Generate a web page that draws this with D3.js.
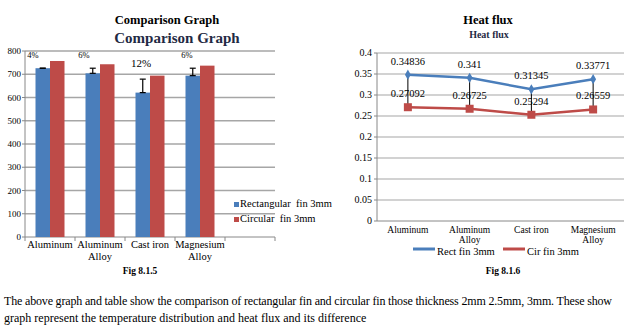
<!DOCTYPE html>
<html>
<head>
<meta charset="utf-8">
<script src="https://cdn.jsdelivr.net/npm/d3@7"></script>
<style>
  body { margin: 0; background: #fff; }
</style>
</head>
<body>
<svg id="chart" width="637" height="334"></svg>
<script>
// left chart data
var materials = ["Aluminum", "Aluminum\nAlloy", "Cast iron", "Magnesium\nAlloy"];
var rectValues = [726, 704, 621, 694];
var circValues = [757, 743, 694, 737];
var rectErrors = [0, 22, 58, 32];
var percentLabels = ["4%", "6%", "12%", "6%"];
var barTicks = [0, 100, 200, 300, 400, 500, 600, 700, 800];

// right chart data
var rectFlux = [0.34836, 0.341, 0.31345, 0.33771];
var cirFlux = [0.27092, 0.26725, 0.25294, 0.26559];
var fluxTicks = [0, 0.05, 0.1, 0.15, 0.2, 0.25, 0.3, 0.35, 0.4];

var blue = "#4a7ebb";
var red = "#be4b48";
var grid = "#a6a6a6";
var serif = "'Liberation Serif', 'Times New Roman', 'DejaVu Serif', serif";

var svg = d3.select("#chart").attr("font-family", serif).style("font-family", serif);

function multiLine(sel, cx, y, label, size, weight, lh) {
    var lines = label.split("\n");
    var t = sel.append("text")
        .attr("x", cx).attr("y", y)
        .attr("text-anchor", "middle")
        .style("font-size", size + "px")
        .style("font-weight", weight || "normal");
    lines.forEach(function(l, i) {
        t.append("tspan").attr("x", cx).attr("dy", i == 0 ? 0 : lh + "px").text(l);
    });
}

// ---------- left: comparison bar chart ----------
var left = svg.append("g");
left.append("text").attr("x", 167).attr("y", 24).attr("text-anchor", "middle")
    .style("font-size", "12.5px").style("font-weight", "bold").text("Comparison Graph");
left.append("text").attr("x", 177).attr("y", 43).attr("text-anchor", "middle")
    .style("font-size", "15px").style("font-weight", "bold").style("fill", "#1f2a44")
    .text("Comparison Graph");

var x0 = d3.scaleBand().domain(d3.range(5)).range([25, 275]);
var y0 = d3.scaleLinear().domain([0, 800]).range([237, 51]);

left.selectAll(".hgrid").data(barTicks.slice(1)).enter().append("line")
    .attr("x1", 25).attr("x2", 275)
    .attr("y1", function(d) { return y0(d); }).attr("y2", function(d) { return y0(d); })
    .style("stroke", grid).style("stroke-width", 1.5);

left.selectAll(".ylab").data(barTicks).enter().append("text")
    .attr("x", 21).attr("y", function(d) { return y0(d) + 3; })
    .attr("text-anchor", "end").style("font-size", "9px").text(function(d) { return d; });

// axes
left.append("line").attr("x1", 25).attr("x2", 25).attr("y1", 51).attr("y2", 237)
    .style("stroke", "#888");
left.append("line").attr("x1", 25).attr("x2", 275).attr("y1", 237).attr("y2", 237)
    .style("stroke", "#888");
left.selectAll(".xtick").data(d3.range(6)).enter().append("line")
    .attr("x1", function(d) { return 25 + d * x0.bandwidth(); })
    .attr("x2", function(d) { return 25 + d * x0.bandwidth(); })
    .attr("y1", 237).attr("y2", 241).style("stroke", "#888");
left.selectAll(".ytick").data(barTicks).enter().append("line")
    .attr("x1", 22).attr("x2", 25)
    .attr("y1", function(d) { return y0(d); }).attr("y2", function(d) { return y0(d); })
    .style("stroke", "#888");

var bw = 14.5;
left.selectAll(".rbar").data(rectValues).enter().append("rect")
    .attr("x", function(d, i) { return x0(i) + x0.bandwidth() / 2 - bw; })
    .attr("y", function(d) { return y0(d); })
    .attr("width", bw).attr("height", function(d) { return 237 - y0(d); })
    .style("fill", blue);
left.selectAll(".cbar").data(circValues).enter().append("rect")
    .attr("x", function(d, i) { return x0(i) + x0.bandwidth() / 2; })
    .attr("y", function(d) { return y0(d); })
    .attr("width", bw).attr("height", function(d) { return 237 - y0(d); })
    .style("fill", red);

// error bars on rectangular series
rectValues.forEach(function(v, i) {
    var cx = x0(i) + x0.bandwidth() / 2 - bw / 2;
    var yTop = y0(v + rectErrors[i]), yBot = y0(v);
    left.append("line").attr("x1", cx).attr("x2", cx).attr("y1", yTop).attr("y2", yBot)
        .style("stroke", "#000").style("stroke-width", 1.2);
    [yTop, yBot].forEach(function(yy) {
        left.append("line").attr("x1", cx - 3).attr("x2", cx + 3).attr("y1", yy).attr("y2", yy)
            .style("stroke", "#000").style("stroke-width", 1.2);
    });
});

// percent labels
var pctX = [33, 84, 141, 187];
var pctY = [58, 58, 67, 58];
left.selectAll(".pct").data(percentLabels).enter().append("text")
    .attr("x", function(d, i) { return pctX[i]; })
    .attr("y", function(d, i) { return pctY[i]; })
    .attr("text-anchor", "middle").style("fill", "#000")
    .style("font-size", function(d) { return d == "12%" ? "11px" : "8.5px"; })
    .text(function(d) { return d; });

materials.forEach(function(m, i) {
    multiLine(left, x0(i) + x0.bandwidth() / 2, 248, m, 10.5, "normal", 12);
});

// legend
var legendL = [["Rectangular  fin 3mm", blue], ["Circular  fin 3mm", red]];
legendL.forEach(function(d, i) {
    var yy = 207 + i * 15;
    left.append("rect").attr("x", 234).attr("y", yy - 5).attr("width", 5).attr("height", 5)
        .style("fill", d[1]);
    left.append("text").attr("x", 240).attr("y", yy).style("font-size", "10.5px")
        .style("white-space", "pre").attr("xml:space", "preserve").text(d[0]);
});

left.append("text").attr("x", 140).attr("y", 274).attr("text-anchor", "middle")
    .style("font-size", "9.5px").style("font-weight", "bold").text("Fig 8.1.5");

// ---------- right: heat flux line chart ----------
var right = svg.append("g");
right.append("text").attr("x", 488).attr("y", 24).attr("text-anchor", "middle")
    .style("font-size", "12.5px").style("font-weight", "bold").text("Heat flux");
right.append("text").attr("x", 489).attr("y", 38).attr("text-anchor", "middle")
    .style("font-size", "10px").style("font-weight", "bold").style("fill", "#1f2a44")
    .text("Heat flux");

var x1 = d3.scaleBand().domain(d3.range(4)).range([377, 624]);
var y1 = d3.scaleLinear().domain([0, 0.4]).range([221, 53]);
var cx1 = function(i) { return x1(i) + x1.bandwidth() / 2; };

right.selectAll(".hgrid").data(fluxTicks.slice(1)).enter().append("line")
    .attr("x1", 377).attr("x2", 624)
    .attr("y1", function(d) { return y1(d); }).attr("y2", function(d) { return y1(d); })
    .style("stroke", grid).style("stroke-width", 1.2);
right.append("line").attr("x1", 377).attr("x2", 377).attr("y1", 53).attr("y2", 221)
    .style("stroke", "#888");
right.append("line").attr("x1", 377).attr("x2", 624).attr("y1", 221).attr("y2", 221)
    .style("stroke", "#888");
right.selectAll(".ytick").data(fluxTicks).enter().append("line")
    .attr("x1", 374).attr("x2", 377)
    .attr("y1", function(d) { return y1(d); }).attr("y2", function(d) { return y1(d); })
    .style("stroke", "#888");
right.selectAll(".ylab").data(fluxTicks).enter().append("text")
    .attr("x", 372).attr("y", function(d) { return y1(d) + 3; })
    .attr("text-anchor", "end").style("font-size", "10px").text(function(d) { return d; });

// drop lines
rectFlux.forEach(function(v, i) {
    right.append("line").attr("x1", cx1(i)).attr("x2", cx1(i))
        .attr("y1", y1(v)).attr("y2", y1(cirFlux[i]))
        .style("stroke", "#000").style("stroke-width", 1);
});

var line = d3.line().x(function(d, i) { return cx1(i); }).y(function(d) { return y1(d); });
right.append("path").datum(rectFlux).attr("d", line)
    .style("fill", "none").style("stroke", blue).style("stroke-width", 2.5);
right.append("path").datum(cirFlux).attr("d", line)
    .style("fill", "none").style("stroke", red).style("stroke-width", 2.5);

right.selectAll(".dia").data(rectFlux).enter().append("path")
    .attr("d", d3.symbol().type(d3.symbolDiamond).size(30))
    .attr("transform", function(d, i) { return "translate(" + cx1(i) + "," + y1(d) + ")"; })
    .style("fill", blue);
right.selectAll(".sq").data(cirFlux).enter().append("rect")
    .attr("x", function(d, i) { return cx1(i) - 4; })
    .attr("y", function(d) { return y1(d) - 4; })
    .attr("width", 8).attr("height", 8)
    .style("fill", red);

right.selectAll(".rlab").data(rectFlux).enter().append("text")
    .attr("x", function(d, i) { return cx1(i); })
    .attr("y", function(d) { return y1(d) - 10; })
    .attr("text-anchor", "middle").style("font-size", "10.5px")
    .text(function(d) { return d; });
right.selectAll(".clab").data(cirFlux).enter().append("text")
    .attr("x", function(d, i) { return cx1(i); })
    .attr("y", function(d) { return y1(d) - 10; })
    .attr("text-anchor", "middle").style("font-size", "10.5px")
    .text(function(d) { return d; });

materials.forEach(function(m, i) {
    multiLine(right, cx1(i), 233, m, 9.5, "normal", 10);
});

// legend
var legendR = [["Rect fin 3mm", blue, 413], ["Cir fin 3mm", red, 503]];
legendR.forEach(function(d) {
    right.append("line").attr("x1", d[2]).attr("x2", d[2] + 22).attr("y1", 249).attr("y2", 249)
        .style("stroke", d[1]).style("stroke-width", 3);
    right.append("text").attr("x", d[2] + 24).attr("y", 255).style("font-size", "10.5px").text(d[0]);
});

right.append("text").attr("x", 503).attr("y", 274).attr("text-anchor", "middle")
    .style("font-size", "9.5px").style("font-weight", "bold").text("Fig 8.1.6");

// paragraph
svg.append("text").attr("x", 4).attr("y", 305).style("font-size", "12px")
    .attr("textLength", 608).attr("lengthAdjust", "spacing")
    .text("The above graph and table show the comparison of rectangular fin and circular fin those thickness 2mm 2.5mm, 3mm. These show");
svg.append("text").attr("x", 4).attr("y", 322).style("font-size", "12px")
    .text("graph represent the temperature distribution and heat flux and its difference");
</script>
</body>
</html>
